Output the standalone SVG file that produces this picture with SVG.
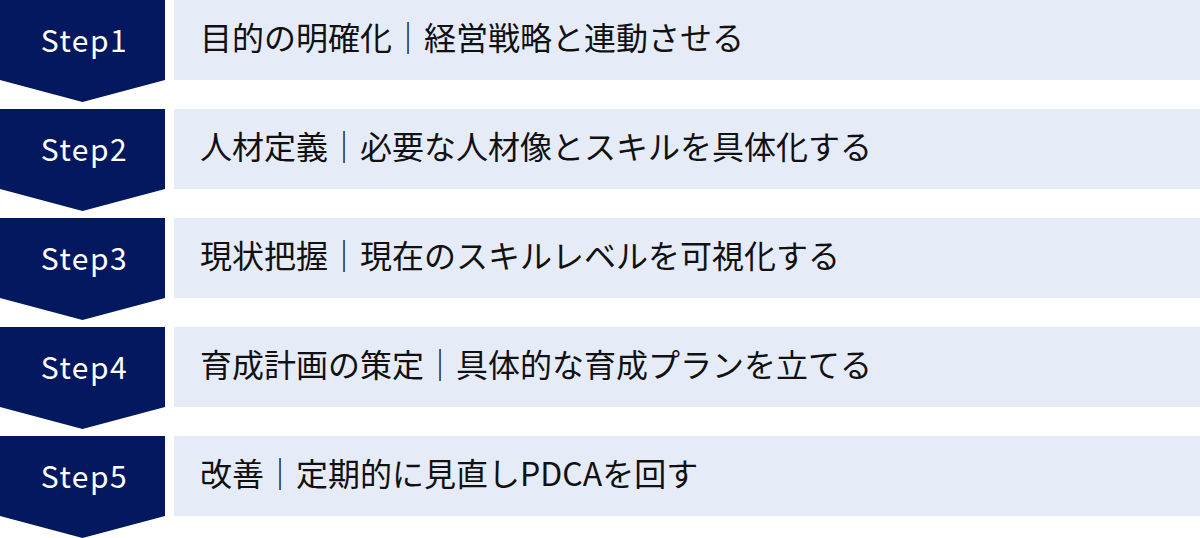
<svg xmlns="http://www.w3.org/2000/svg" width="1200" height="538" viewBox="0 0 1200 538">
<style>
.arrow{fill:#03185f}
.band{fill:#e6ebf8}
.step{font-family:"Noto Sans CJK JP","Noto Sans",sans-serif;font-size:30px;fill:#ffffff;text-anchor:middle;letter-spacing:1.5px}
.label{font-family:"Noto Sans CJK JP","Noto Sans",sans-serif;font-size:32px;fill:#111111}
</style>
<rect width="1200" height="538" fill="#ffffff"/>
<defs>
<path id="chev" d="M0 0H165V80L82.5 102L0 80Z"/>
</defs>
<g id="step1">
<use href="#chev" class="arrow"/>
<rect class="band" x="174" y="0" width="1026" height="80"/>
<text class="step" x="84.5" y="52">Step1</text>
<text class="label" x="200" y="49.5">目的の明確化｜経営戦略と連動させる</text>
</g>
<g id="step2" transform="translate(0,109)">
<use href="#chev" class="arrow"/>
<rect class="band" x="174" y="0" width="1026" height="80"/>
<text class="step" x="84.5" y="52">Step2</text>
<text class="label" x="200" y="49.5">人材定義｜必要な人材像とスキルを具体化する</text>
</g>
<g id="step3" transform="translate(0,218)">
<use href="#chev" class="arrow"/>
<rect class="band" x="174" y="0" width="1026" height="80"/>
<text class="step" x="84.5" y="52">Step3</text>
<text class="label" x="200" y="49.5">現状把握｜現在のスキルレベルを可視化する</text>
</g>
<g id="step4" transform="translate(0,327)">
<use href="#chev" class="arrow"/>
<rect class="band" x="174" y="0" width="1026" height="80"/>
<text class="step" x="84.5" y="52">Step4</text>
<text class="label" x="200" y="49.5">育成計画の策定｜具体的な育成プランを立てる</text>
</g>
<g id="step5" transform="translate(0,436)">
<use href="#chev" class="arrow"/>
<rect class="band" x="174" y="0" width="1026" height="80"/>
<text class="step" x="84.5" y="52">Step5</text>
<text class="label" x="200" y="49.5">改善｜定期的に見直しPDCAを回す</text>
</g>
<g id="connectors"></g>
</svg>
